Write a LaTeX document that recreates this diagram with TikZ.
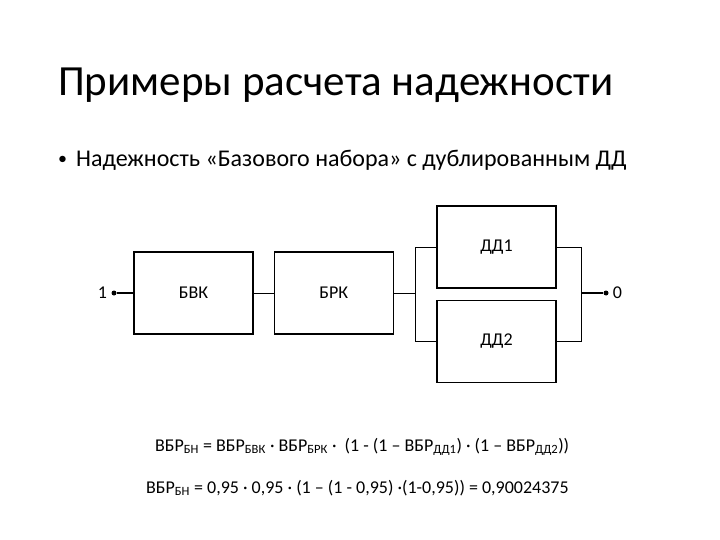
\documentclass[tikz,border=0pt]{standalone}
\usepackage{fontspec}
\setmainfont{Carlito}
\usetikzlibrary{positioning,calc}

\begin{document}
\begin{tikzpicture}[
  x=1pt, y=-1pt,
  node distance = 11pt and 20pt,
  blk/.style    = {draw, line width=1.2pt, minimum width=119pt, minimum height=82pt,
                   inner sep=0pt, font=\fontsize{18}{20}\selectfont},
  wire/.style   = {line width=0.9pt},
  term/.style   = {line width=2pt},
  pin/.style    = {circle, fill=black, inner sep=0pt, minimum size=5pt},
  lbl/.style    = {font=\fontsize{18}{20}\selectfont, inner sep=2pt},
]
\useasboundingbox (0,0) rectangle (720,540);

% ---- headings ----
\node[anchor=base west, inner sep=0pt, font=\fontsize{43}{48}\selectfont] (title) at (58,96)
  {Примеры расчета надежности};
\node[anchor=base west, inner sep=0pt, font=\fontsize{24}{28}\selectfont] (item) at (58,167)
  {\raisebox{2.5pt}{\fontsize{18}{20}\selectfont•}\hspace{9pt}Надежность «Базового набора» с дублированным ДД};

% ---- blocks ----
\node[blk] (bvk) at (193.5,293) {БВК};
\node[blk, right=20pt of bvk] (brk) {БРК};
\node[blk] (dd1) at (496.5,247) {ДД1};
\node[blk, below=11pt of dd1] (dd2) {ДД2};

% ---- terminals ----
\node[pin] (in)  at (114,293) {};
\node[pin] (out) at (606,293) {};
\node[lbl, left=2pt of in]   (inl)  {1};
\node[lbl, right=2pt of out] (outl) {0};

\coordinate (split) at ($(brk.east)+(22pt,0)$);
\coordinate (join)  at ($(dd1.east)+(25pt,0)$);

% ---- edges ----
\draw[term] (in) -- (bvk.west);
\draw[wire] (bvk.east) -- (brk.west);
\draw[wire] (brk.east) -- (split);
\draw[wire] (dd1.west) -- (dd1.west -| split) -- (dd2.west -| split) -- (dd2.west);
\draw[wire] (dd1.east) -- (dd1.east -| join) -- (dd2.east -| join) -- (dd2.east);
\draw[term] (join |- out) -- (out);

% ---- formulas ----
\node[anchor=base west, inner sep=0pt, font=\fontsize{18}{22}\selectfont] (f1) at (155,451)
  {ВБР\textsubscript{БН} = ВБР\textsubscript{БВК} · ВБР\textsubscript{БРК} ·\ \ (1 - (1 – ВБР\textsubscript{ДД1}) · (1 – ВБР\textsubscript{ДД2}))};
\node[anchor=base west, inner sep=0pt, font=\fontsize{18}{22}\selectfont] (f2) at (146,493)
  {ВБР\textsubscript{БН} = 0,95 · 0,95 · (1 – (1 - 0,95) ·(1-0,95)) = 0,90024375};

\end{tikzpicture}
\end{document}
